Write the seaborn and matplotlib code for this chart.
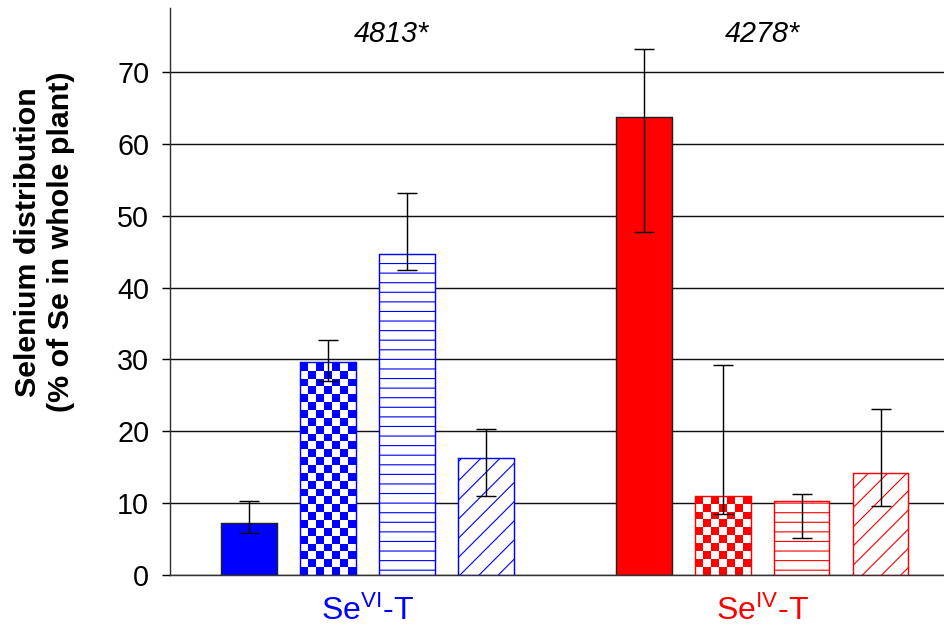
import numpy as np
import pandas as pd
import matplotlib
matplotlib.use("Agg")
import matplotlib.pyplot as plt
from matplotlib.colors import ListedColormap
import seaborn as sns

# ─── Data ─────────────────────────────────────────────────────────────────────
groups      = [r"Se$^{\mathrm{VI}}$-T", r"Se$^{\mathrm{IV}}$-T"]
group_color = ["#0000FF", "#FF0000"]
totals      = ["4813*", "4278*"]
fills       = ["solid", "check", "hline", "diag"]   # one per plant fraction

means_vi = [7.2, 29.7, 44.6, 16.3]
lower_vi = [5.8, 27.0, 42.5, 11.0]
upper_vi = [10.3, 32.7, 53.2, 20.3]

means_iv = [63.8, 11.0, 10.3, 14.2]
lower_iv = [47.7, 8.5, 5.1, 9.6]
upper_iv = [73.2, 29.2, 11.3, 23.1]

y_ticks = [0, 10, 20, 30, 40, 50, 60, 70]

# ─── Layout ───────────────────────────────────────────────────────────────────
DPI = 115
GAP = 5          # group stride on the x axis (4 bars + 1 empty slot)

sns.set_style("white")
plt.rcParams["font.family"] = ["Liberation Sans", "DejaVu Sans"]
plt.rcParams["mathtext.fontset"] = "custom"
plt.rcParams["mathtext.rm"] = "Liberation Sans"
plt.rcParams["mathtext.it"] = "Liberation Sans:italic"
plt.rcParams["mathtext.bf"] = "Liberation Sans:bold"
plt.rcParams["hatch.linewidth"] = 0.7
for key in ["text.color", "axes.labelcolor", "xtick.color", "ytick.color"]:
    plt.rcParams[key] = "black"

rows = []
for g, (m, lo, hi) in enumerate([(means_vi, lower_vi, upper_vi),
                                  (means_iv, lower_iv, upper_iv)]):
    for k, fill in enumerate(fills):
        rows.append({"pos": g * GAP + k, "group": g, "fill": fill,
                     "mean": m[k], "lower": lo[k], "upper": hi[k]})
df = pd.DataFrame(rows)

fig = plt.figure(figsize=(944 / DPI, 631 / DPI), dpi=DPI)
ax = fig.add_axes([170 / 944, 1 - 575 / 631, 1 - 170 / 944, (575 - 8) / 631])

sns.barplot(data=df, x="pos", y="mean", native_scale=True, width=0.7,
            color="white", errorbar=None, ax=ax)

# ── per-bar styling ──────────────────────────────────────────────────────────
sq_h = 1.09       # checker square height in data units
for p in ax.patches:
    cx = p.get_x() + p.get_width() / 2
    row = df.iloc[(df["pos"] - cx).abs().argmin()]
    col = group_color[row["group"]]
    p.set_linewidth(0.9)
    if row["fill"] == "solid":
        p.set_facecolor(col)
        p.set_edgecolor("#222222")
    elif row["fill"] == "hline":
        p.set_facecolor("white")
        p.set_edgecolor(col)
        p.set_hatch("--")
    elif row["fill"] == "diag":
        p.set_facecolor("white")
        p.set_edgecolor(col)
        p.set_hatch("//")
    else:
        p.set_facecolor("none")
        p.set_edgecolor(col)
        x0, w, h = p.get_x(), p.get_width(), p.get_height()
        nrows = int(np.ceil(h / sq_h))
        board = np.add.outer(np.arange(nrows), np.arange(7)) % 2
        im = ax.imshow(board, extent=(x0, x0 + w, 0, nrows * sq_h),
                       origin="upper", cmap=ListedColormap(["white", col]),
                       aspect="auto", interpolation="nearest", zorder=0.9)
        im.set_clip_path(p)

ax.errorbar(df["pos"], df["mean"],
            yerr=[df["mean"] - df["lower"], df["upper"] - df["mean"]],
            fmt="none", ecolor="black", elinewidth=0.9, capsize=6,
            capthick=0.9, zorder=3)

# ── totals above each group ──────────────────────────────────────────────────
for g, txt in enumerate(totals):
    ax.text(g * GAP + 1.5 + (0.3 if g == 0 else 0.0), 75.3, txt,
            ha="center", va="center", fontsize=18, style="italic")

# ── axes ─────────────────────────────────────────────────────────────────────
ax.set_xlim(-1, 8.8)
ax.set_ylim(0, 78.9)
ax.set_yticks(y_ticks)
ax.set_xticks([g * GAP + 1.5 for g in range(len(groups))])
ax.set_xticklabels(groups, fontsize=20)
for lab, c in zip(ax.get_xticklabels(), group_color):
    lab.set_color(c)
ax.tick_params(axis="x", length=0, pad=13)
ax.tick_params(axis="y", direction="out", length=5, width=0.9,
               labelsize=18, pad=8, left=True)
ax.set_xlabel("")
ax.set_ylabel("Selenium distribution\n(% of Se in whole plant)",
              fontsize=19, fontweight="bold")
ax.yaxis.set_label_coords(-0.123, 0.587)

ax.set_axisbelow(True)
ax.yaxis.grid(True, color="#111111", linewidth=0.9)
ax.xaxis.grid(False)
for s in ["top", "right"]:
    ax.spines[s].set_visible(False)
for s in ["left", "bottom"]:
    ax.spines[s].set_color("#333333")
    ax.spines[s].set_linewidth(0.9)

fig.savefig("out.png", dpi=DPI)
